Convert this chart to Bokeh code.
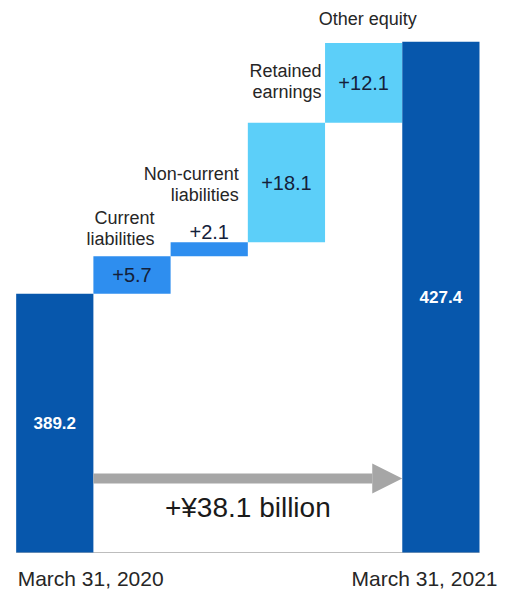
from bokeh.plotting import figure
from bokeh.models import Range1d, Arrow, NormalHead
from bokeh.embed import file_html
from bokeh.resources import INLINE
from bokeh.core.properties import value

# ---------------- data ----------------
categories = ["March 31, 2020", "Current liabilities", "Non-current liabilities",
              "Retained earnings", "Other equity", "March 31, 2021"]
category_lines = [[], ["Current", "liabilities"], ["Non-current", "liabilities"],
                  ["Retained", "earnings"], ["Other equity"], []]
start_total = 389.2
changes = [5.7, 2.1, 18.1, 12.1]
change_labels = ["+5.7", "+2.1", "+18.1", "+12.1"]
end_total = 427.4
total_labels = ["389.2", "427.4"]
axis_base = 350.0
increase_label = "+¥38.1 billion"

# ---------------- layout ----------------
W, H = 507, 592
PX_X = 77.22   # pixels per category
PX_Y = 6.6     # pixels per unit
LEFT_PAD = 15.67
BOTTOM_PAD = 40.0

def dx(px):
    return px / PX_X

def dy(px):
    return px / PX_Y

x0 = -0.5 - dx(LEFT_PAD)
y0 = axis_base - dy(BOTTOM_PAD)

FONT = value("Liberation Sans")
DARK = "#0757AC"
MED = "#2E8EEF"
LIGHT = "#5CCFF9"
GRAY = "#A6A6A6"

p = figure(width=W, height=H, output_backend="svg", toolbar_location=None,
           x_range=Range1d(x0, x0 + dx(W)), y_range=Range1d(y0, y0 + dy(H)),
           x_axis_type=None, y_axis_type=None, min_border=0)
p.grid.visible = False
p.outline_line_color = None
p.background_fill_color = "white"
p.border_fill_color = "white"

# waterfall geometry
xs = list(range(len(categories)))
bottoms = [axis_base]
tops = [start_total]
run = start_total
for c in changes:
    bottoms.append(run)
    run += c
    tops.append(run)
bottoms.append(axis_base)
tops.append(end_total)
colors = [DARK, MED, MED, LIGHT, LIGHT, DARK]

# baseline
p.segment(x0=[-0.5], y0=[axis_base], x1=[len(categories) - 0.5], y1=[axis_base],
          line_color="#BDBDBD", line_width=1)

p.vbar(x=xs, width=1.0, bottom=bottoms, top=tops, fill_color=colors, line_color=None)

# totals (white bold)
tot_idx = [0, len(categories) - 1]
p.text(x=tot_idx, y=[(bottoms[i] + tops[i]) / 2 for i in tot_idx], text=total_labels,
       text_font=FONT, text_font_size="17px", text_font_style="bold",
       text_color="white", text_align="center", text_baseline="middle")

# change labels: inside the bar when tall enough, otherwise just above it
lx, ly = [], []
for k, lab in enumerate(change_labels):
    i = k + 1
    h_px = (tops[i] - bottoms[i]) * PX_Y
    lx.append(i)
    if h_px < 25:
        ly.append(tops[i] + dy(10))
    else:
        ly.append((tops[i] + bottoms[i]) / 2)
p.text(x=lx, y=ly, text=change_labels, text_font=FONT, text_font_size="20px",
       text_color="#14213A", text_align="center", text_baseline="middle")

# category labels (lines)
label_dx_px = [0, 22.5, 29.5, 35, 4]
label_gap_px = [0, 17, 47, 31, 24]
LINE_H = 21
rx, ry, rt = [], [], []
cx, cy, ct = [], [], []
for i, lines in enumerate(category_lines):
    if not lines:
        continue
    n = len(lines)
    for j, t in enumerate(lines):
        xx = i + dx(label_dx_px[i])
        yy = tops[i] + dy(label_gap_px[i] + (n - 1 - j) * LINE_H)
        if n > 1:
            rx.append(xx); ry.append(yy); rt.append(t)
        else:
            cx.append(xx); cy.append(yy); ct.append(t)
p.text(x=rx, y=ry, text=rt, text_font=FONT, text_font_size="18px",
       text_color="#262626", text_align="right", text_baseline="middle")
p.text(x=cx, y=cy, text=ct, text_font=FONT, text_font_size="18px",
       text_color="#262626", text_align="center", text_baseline="middle")

# bottom date labels
p.text(x=[-0.5 + dx(1.5)], y=[axis_base - dy(26)], text=[categories[0]],
       text_font=FONT, text_font_size="21px", text_color="#262626",
       text_align="left", text_baseline="middle")
p.text(x=[len(categories) - 0.5 + dx(18)], y=[axis_base - dy(26)], text=[categories[-1]],
       text_font=FONT, text_font_size="21px", text_color="#262626",
       text_align="right", text_baseline="middle")

# arrow and increase label
arrow_y = axis_base + dy(74)
p.add_layout(Arrow(start=None,
                   end=NormalHead(size=30, fill_color=GRAY, line_color=GRAY, line_width=0),
                   x_start=0.5, y_start=arrow_y, x_end=len(categories) - 1.5, y_end=arrow_y,
                   line_color=GRAY, line_width=10))
p.text(x=[(0.5 + len(categories) - 1.5) / 2], y=[axis_base + dy(45)], text=[increase_label],
       text_font=FONT, text_font_size="28px", text_color="#1A1A1A",
       text_align="center", text_baseline="middle")

open("out.html", "w").write(file_html(p, INLINE))
